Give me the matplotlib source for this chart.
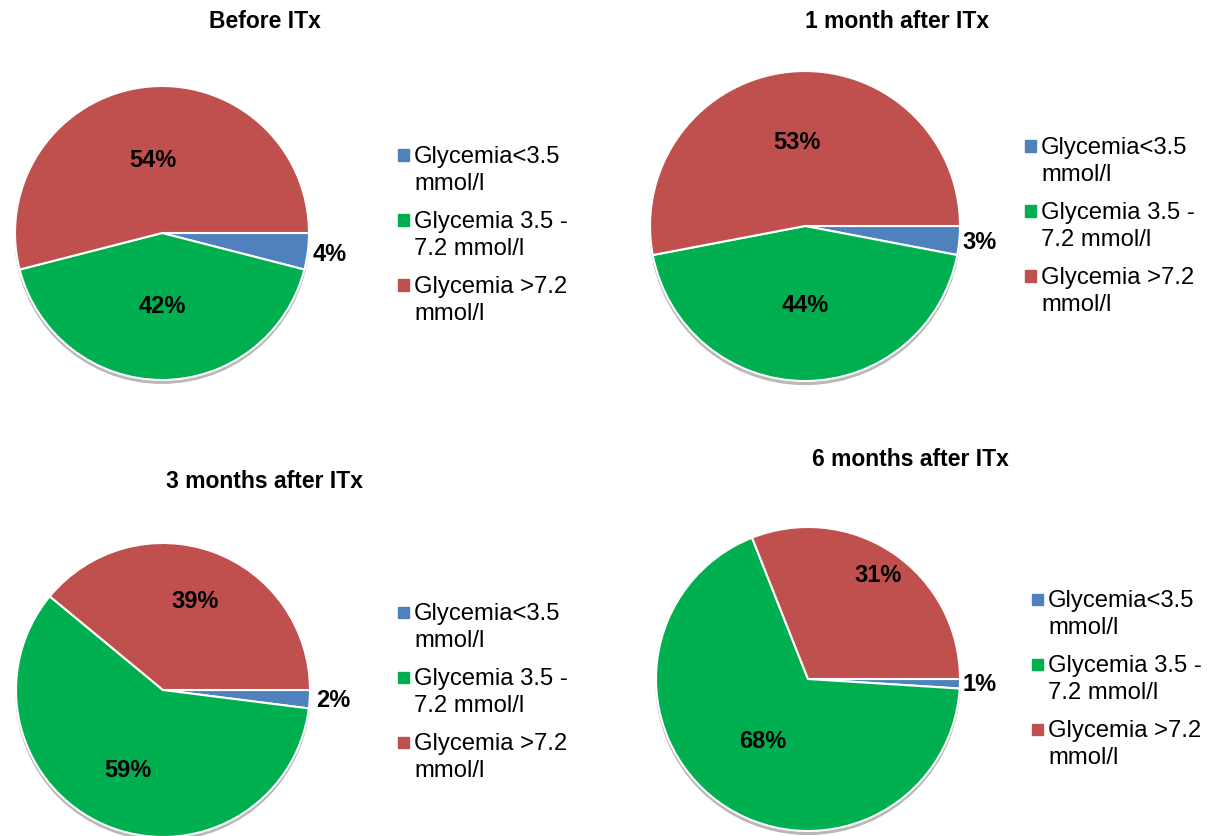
import numpy as np
from matplotlib import pyplot as plt
from matplotlib.patches import Circle, Rectangle

plt.rcParams['font.family'] = ['Liberation Sans', 'DejaVu Sans']

categories = ['Glycemia<3.5\nmmol/l', 'Glycemia 3.5 -\n7.2 mmol/l', 'Glycemia >7.2\nmmol/l']
colors     = ['#4F81BD', '#00B050', '#C0504D']

titles = ['Before ITx', '1 month after ITx', '3 months after ITx', '6 months after ITx']

before_itx  = [4, 42, 54]
month_1     = [3, 44, 53]
months_3    = [2, 59, 39]
months_6    = [1, 68, 31]
all_values  = [before_itx, month_1, months_3, months_6]

W, H = 1208, 836

# pixel layout per panel: pie centre, radius, title centre, legend x, first legend baseline,
# and how far out each percentage label sits (fraction of radius)
layout = [
    dict(cx=162, cy=233, r=147, tx=265, ty=22,  lx=414,  ly=163, dist=[1.15, 0.50, 0.50]),
    dict(cx=805, cy=226, r=155, tx=897, ty=22,  lx=1041, ly=154, dist=[1.13, 0.51, 0.54]),
    dict(cx=163, cy=690, r=147, tx=265, ty=482, lx=414,  ly=620, dist=[1.16, 0.60, 0.64]),
    dict(cx=808, cy=679, r=152, tx=910, ty=460, lx=1048, ly=607, dist=[1.13, 0.51, 0.82]),
]

fig = plt.figure(figsize=(W / 100, H / 100), dpi=100)

def fx(x):
    return x / W

def fy(y):
    return 1 - y / H

pad = 1.05
for vals, title, lay in zip(all_values, titles, layout):
    R = lay['r'] * pad
    ax = fig.add_axes([fx(lay['cx'] - R), fy(lay['cy'] + R), 2 * R / W, 2 * R / H])

    # soft grey rim under the pie
    ax.add_patch(Circle((0, -0.022), 1.0, color='#b8b8b8', zorder=0))

    wedges, _ = ax.pie(vals, colors=colors, startangle=0, counterclock=False,
                       wedgeprops=dict(edgecolor='white', linewidth=1.5))
    for w in wedges:
        w.set_zorder(1)

    for w, v, d in zip(wedges, vals, lay['dist']):
        ang = np.deg2rad((w.theta1 + w.theta2) / 2)
        ax.text(d * np.cos(ang), d * np.sin(ang), f'{v}%', ha='center', va='center',
                fontsize=17, fontweight='bold', color='black', zorder=3)

    ax.set_xlim(-pad, pad)
    ax.set_ylim(-pad, pad)
    ax.set_aspect('equal')
    ax.axis('off')

    fig.text(fx(lay['tx']), fy(lay['ty']), title, ha='center', va='center',
             fontsize=16.5, fontweight='bold', color='black')

    # legend, one square per category, label lines stacked below each other
    y0 = lay['ly']
    for lab, c in zip(categories, colors):
        lines = lab.split('\n')
        sq = 11
        fig.patches.append(Rectangle((fx(lay['lx'] - 16), fy(y0 - 8 + sq / 2)), sq / W, sq / H,
                                     transform=fig.transFigure, color=c))
        for i, line in enumerate(lines):
            fig.text(fx(lay['lx']), fy(y0 + i * 27), line, ha='left', va='baseline',
                     fontsize=17.2, color='black')
        y0 += 65

fig.savefig('out.png', dpi=100, facecolor='white')
